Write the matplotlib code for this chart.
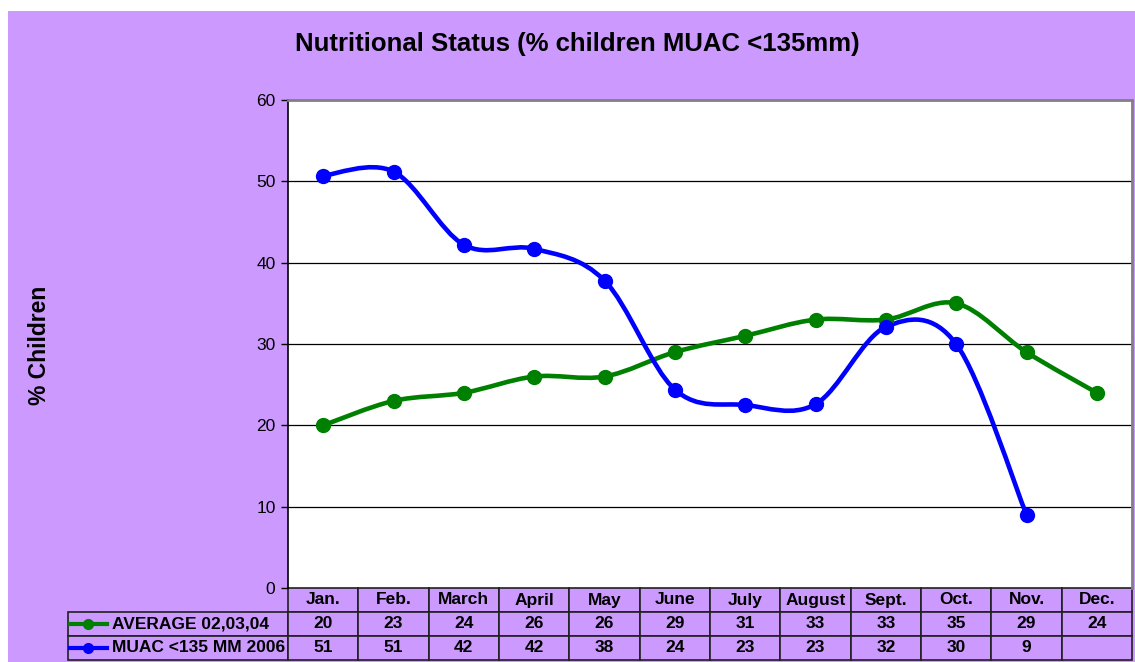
import numpy as np
import matplotlib
matplotlib.use('Agg')
import matplotlib.pyplot as plt
from matplotlib.path import Path
from matplotlib.patches import PathPatch, Rectangle
from matplotlib.lines import Line2D

plt.rcParams['font.family'] = ['Liberation Sans', 'DejaVu Sans']

months = ['Jan.', 'Feb.', 'March', 'April', 'May', 'June', 'July',
          'August', 'Sept.', 'Oct.', 'Nov.', 'Dec.']
average = [20, 23, 24, 26, 26, 29, 31, 33, 33, 35, 29, 24]
muac_2006 = [50.7, 51.2, 42.2, 41.7, 37.8, 24.4, 22.5, 22.6, 32.1, 30.0, 9.0]
average_labels = ['20', '23', '24', '26', '26', '29', '31', '33', '33', '35', '29', '24']
muac_labels = ['51', '51', '42', '42', '38', '24', '23', '23', '32', '30', '9', '']
series_names = ['AVERAGE 02,03,04', 'MUAC <135 MM 2006']

PURPLE = '#CC99FF'
GREEN = '#008000'
BLUE = '#0000FF'


def smooth_path(x, y):
    # bezier curve through the points, like a spreadsheet "smoothed line"
    pts = np.column_stack([x, y]).astype(float)
    n = len(pts)
    verts = [pts[0]]
    codes = [Path.MOVETO]
    for i in range(n - 1):
        p0 = pts[i - 1] if i > 0 else pts[i]
        p1 = pts[i]
        p2 = pts[i + 1]
        p3 = pts[i + 2] if i + 2 < n else pts[i + 1]
        c1 = p1 + (p2 - p0) / 6.0
        c2 = p2 - (p3 - p1) / 6.0
        verts += [c1, c2, p2]
        codes += [Path.CURVE4] * 3
    return Path(verts, codes)


fig = plt.figure(figsize=(11.35, 6.62), dpi=100)
fig.patch.set_facecolor('white')
# purple chart area (white strip top and left like the original)
fig.patches.append(Rectangle((8 / 1135, 0), 1 - 8 / 1135, 1 - 11 / 662,
                             transform=fig.transFigure, facecolor=PURPLE,
                             edgecolor='none', zorder=-10))

ax = fig.add_axes([288 / 1135, 1 - 588 / 662, 844 / 1135, 488 / 662])
ax.set_facecolor('white')
ax.set_xlim(-0.5, 11.5)
ax.set_ylim(0, 60)
ax.set_yticks([0, 10, 20, 30, 40, 50, 60])
ax.tick_params(axis='y', labelsize=12.5, length=5, width=1, direction='out', pad=4)
ax.set_xticks([])
for v in [10, 20, 30, 40, 50]:
    ax.axhline(v, color='black', lw=0.9, zorder=1)
ax.spines['left'].set_color('black')
ax.spines['left'].set_linewidth(1.2)
for s in ['top', 'right']:
    ax.spines[s].set_color('#808080')
    ax.spines[s].set_linewidth(2)
ax.spines['bottom'].set_visible(False)

x_avg = np.arange(len(average))
x_muac = np.arange(len(muac_2006))
for xs, ys, col in [(x_avg, average, GREEN), (x_muac, muac_2006, BLUE)]:
    ax.add_patch(PathPatch(smooth_path(xs, ys), facecolor='none', edgecolor=col,
                           lw=3.3, zorder=3, capstyle='round'))
    ax.plot(xs, ys, 'o', color=col, markersize=10, zorder=4)

fig.text(577 / 1135, 1 - 44 / 662, 'Nutritional Status (% children MUAC <135mm)',
         fontsize=18.5, fontweight='bold', ha='center', va='center')
fig.text(40 / 1135, 1 - 345 / 662, '% Children', rotation=90, fontsize=16.5,
         fontweight='bold', ha='center', va='center')

# data table under the plot
cell_text = [[''] + months,
             [series_names[0]] + average_labels,
             [series_names[1]] + muac_labels]
label_w = 220.0
col_w = 844.0 / 12
total_w = label_w + 12 * col_w
widths = [label_w / total_w] + [col_w / total_w] * 12
tbl = ax.table(cellText=cell_text, colWidths=widths, cellLoc='center',
               bbox=[-220 / 844, -72 / 488, total_w / 844, 72 / 488])
tbl.auto_set_font_size(False)
tbl.set_fontsize(12.5)
for (r, c), cell in tbl.get_celld().items():
    cell.set_facecolor(PURPLE)
    cell.set_edgecolor('#202020')
    cell.set_linewidth(1.2)
    cell.get_text().set_fontweight('bold')
    if r == 0 and c == 0:
        cell.visible_edges = ''
    if c == 0 and r > 0:
        cell.get_text().set_ha('left')
        cell.PAD = 44 / label_w

# legend keys in the label column
for r, col in [(1, GREEN), (2, BLUE)]:
    yc = 1 - (588 + 24 * r + 12) / 662
    fig.add_artist(Line2D([70 / 1135, 107 / 1135], [yc, yc], color=col, lw=3,
                          transform=fig.transFigure))
    fig.add_artist(Line2D([88 / 1135], [yc], color=col, marker='o',
                          markersize=7, transform=fig.transFigure))

fig.savefig('out.png', dpi=100, facecolor=fig.get_facecolor())
